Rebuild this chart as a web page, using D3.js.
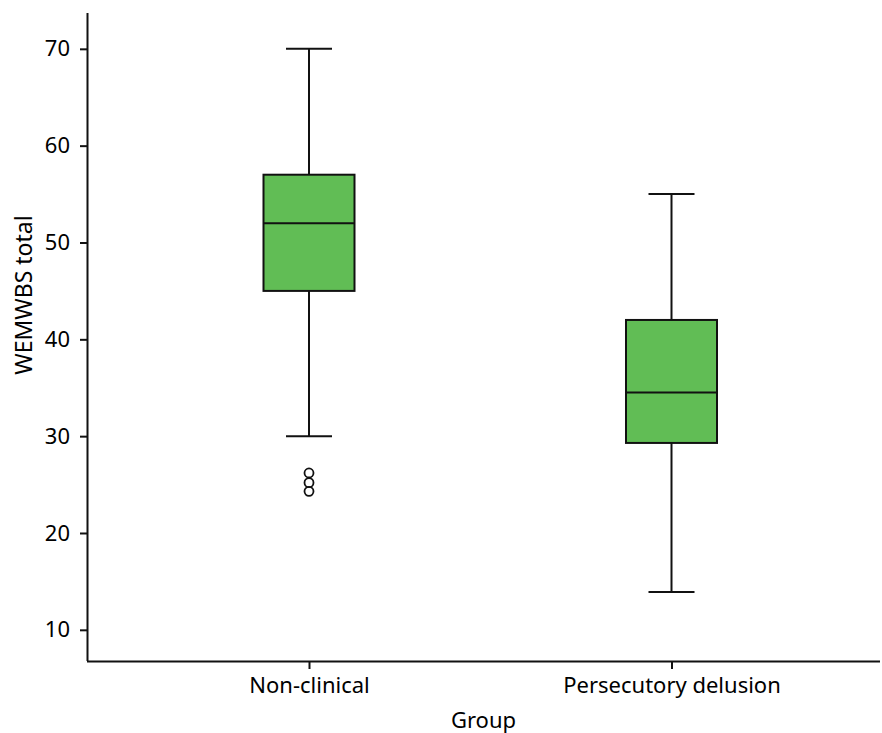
<!DOCTYPE html>
<html><head><meta charset="utf-8">
<script src="https://cdn.jsdelivr.net/npm/d3@7"></script>
<style>body{margin:0;background:#fff}text{font-family:"Noto Sans",sans-serif}</style>
</head><body><svg id="c" width="882" height="733"></svg>
<script>
const categories = ["Non-clinical", "Persecutory delusion"];
const whiskerLow = [30, 13.9];
const q1 = [45, 29.3];
const median = [52, 34.5];
const q3 = [57, 42];
const whiskerHigh = [70, 55];
const outliers = [[26.2, 25.2, 24.3], []];
const yTicks = [10, 20, 30, 40, 50, 60, 70];

const svg = d3.select("#c");
const L = 87, R = 880, T = 13, B = 661;
const y = d3.scaleLinear().domain([6.78, 73.7]).range([B, T]);
const x = d3.scalePoint().domain(categories).range([309, 671.5]);
const boxW = 91, capW = 46;
const fill = "#61bd55", ink = "#111";
const fs = "22px";

const g = svg.append("g");
categories.forEach((c, i) => {
  const cx = x(c);
  g.append("line").attr("x1", cx).attr("x2", cx).attr("y1", y(whiskerLow[i])).attr("y2", y(q1[i])).attr("stroke", ink).attr("stroke-width", 2);
  g.append("line").attr("x1", cx).attr("x2", cx).attr("y1", y(q3[i])).attr("y2", y(whiskerHigh[i])).attr("stroke", ink).attr("stroke-width", 2);
  [whiskerLow[i], whiskerHigh[i]].forEach(v => {
    g.append("line").attr("x1", cx - capW/2).attr("x2", cx + capW/2).attr("y1", y(v)).attr("y2", y(v)).attr("stroke", ink).attr("stroke-width", 2);
  });
  g.append("rect").attr("x", cx - boxW/2).attr("width", boxW).attr("y", y(q3[i])).attr("height", y(q1[i]) - y(q3[i])).attr("fill", fill).attr("stroke", ink).attr("stroke-width", 2);
  g.append("line").attr("x1", cx - boxW/2).attr("x2", cx + boxW/2).attr("y1", y(median[i])).attr("y2", y(median[i])).attr("stroke", ink).attr("stroke-width", 2);
  outliers[i].forEach(v => {
    g.append("circle").attr("cx", cx).attr("cy", y(v)).attr("r", 4.5).attr("fill", "none").attr("stroke", ink).attr("stroke-width", 1.8);
  });
});

const yAxis = svg.append("g").attr("transform", `translate(${L},0)`)
  .call(d3.axisLeft(y).tickValues(yTicks).tickSize(7).tickPadding(10).tickSizeOuter(0));
const xAxis = svg.append("g").attr("transform", `translate(0,${B})`)
  .call(d3.axisBottom(x).tickSize(8).tickPadding(8).tickSizeOuter(0));
[yAxis, xAxis].forEach(a => {
  a.select(".domain").attr("stroke", ink).attr("stroke-width", 2);
  a.selectAll(".tick line").attr("stroke", ink).attr("stroke-width", 2);
  a.selectAll(".tick text").attr("fill", "#000").style("font-size", fs).style("font-family", '"Noto Sans",sans-serif');
});
xAxis.select(".domain").attr("d", `M${L},0.5H${R}`);
yAxis.select(".domain").attr("d", `M0.5,${T}V${B}`);

svg.append("text").attr("x", (L + R) / 2).attr("y", 728).attr("text-anchor", "middle").style("font-size", fs).text("Group");
svg.append("text").attr("transform", `translate(32,295) rotate(-90)`).attr("text-anchor", "middle").style("font-size", "23px").text("WEMWBS total");
</script></body></html>
